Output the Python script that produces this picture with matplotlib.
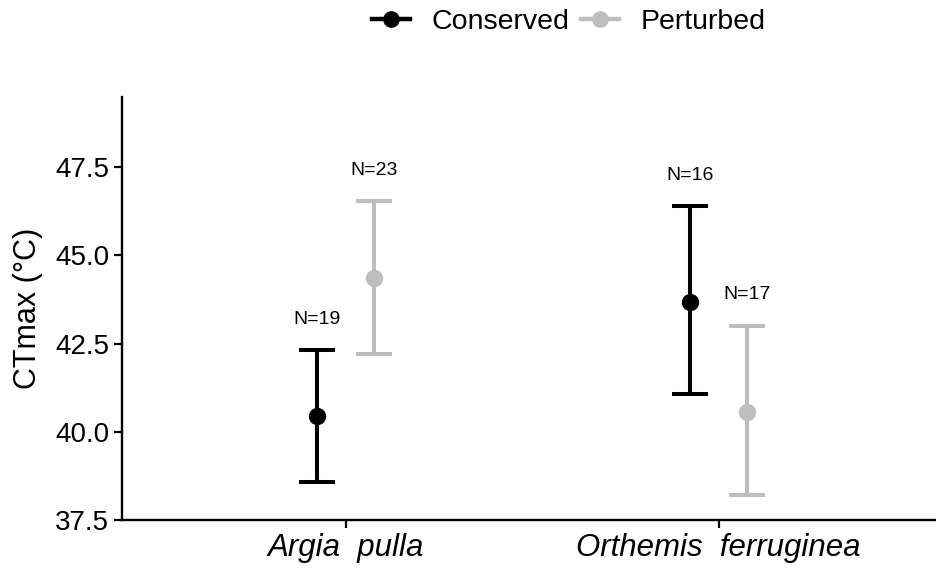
import matplotlib
matplotlib.use("Agg")
import matplotlib.pyplot as plt
from matplotlib.lines import Line2D
import numpy as np

plt.rcParams["font.family"] = ["Liberation Sans", "DejaVu Sans"]

species = ["Argia  pulla", "Orthemis  ferruginea"]
groups = ["Conserved", "Perturbed"]
colors = {"Conserved": "#000000", "Perturbed": "#BEBEBE"}

# mean, lower, upper for each species (order as in `species`)
means = {"Conserved": [40.45, 43.69], "Perturbed": [44.36, 40.56]}
lower = {"Conserved": [38.59, 41.06], "Perturbed": [42.20, 38.22]}
upper = {"Conserved": [42.31, 46.39], "Perturbed": [46.53, 43.01]}
sample_n = {"Conserved": [19, 16], "Perturbed": [23, 17]}

dodge = 0.076
offsets = {"Conserved": -dodge, "Perturbed": dodge}

fig = plt.figure(figsize=(9.36, 5.72), dpi=100)
ax = fig.add_axes([0.130, 0.0909, 0.877, 0.740])

x = np.arange(1, len(species) + 1)
for g in groups:
    m = np.array(means[g])
    lo = m - np.array(lower[g])
    hi = np.array(upper[g]) - m
    xs = x + offsets[g]
    ax.errorbar(xs, m, yerr=[lo, hi], fmt="o", color=colors[g], ms=11.5,
                elinewidth=2.9, capsize=13, capthick=2.9, zorder=3)
    for xi, up, n in zip(xs, upper[g], sample_n[g]):
        ax.text(xi, up + 0.88, f"N={n}", ha="center", va="center",
                fontsize=14, color="black")

ax.set_xlim(0.4, 2.6)
ax.set_ylim(37.5, 49.5)
ax.set_yticks([37.5, 40.0, 42.5, 45.0, 47.5])
ax.set_yticklabels(["37.5", "40.0", "42.5", "45.0", "47.5"], fontsize=20)
ax.set_xticks(x)
ax.set_xticklabels(species, fontsize=22.5, style="italic")
ax.set_ylabel("CTmax (°C)", fontsize=22, labelpad=9)

for side in ["top", "right"]:
    ax.spines[side].set_visible(False)
for side in ["left", "bottom"]:
    ax.spines[side].set_linewidth(1.7)
ax.tick_params(axis="both", direction="out", length=6, width=1.6, colors="black")
ax.tick_params(axis="y", pad=3)
ax.tick_params(axis="x", pad=3)

handles = [Line2D([0], [0], color=colors[g], marker="o", ms=11, lw=3.2) for g in groups]
fig.legend(handles, groups, loc="center", bbox_to_anchor=(0.6074, 0.962), ncol=2,
           frameon=False, fontsize=20.5, handlelength=1.35, handletextpad=0.74,
           columnspacing=0.42)

fig.savefig("out.png", dpi=100)
